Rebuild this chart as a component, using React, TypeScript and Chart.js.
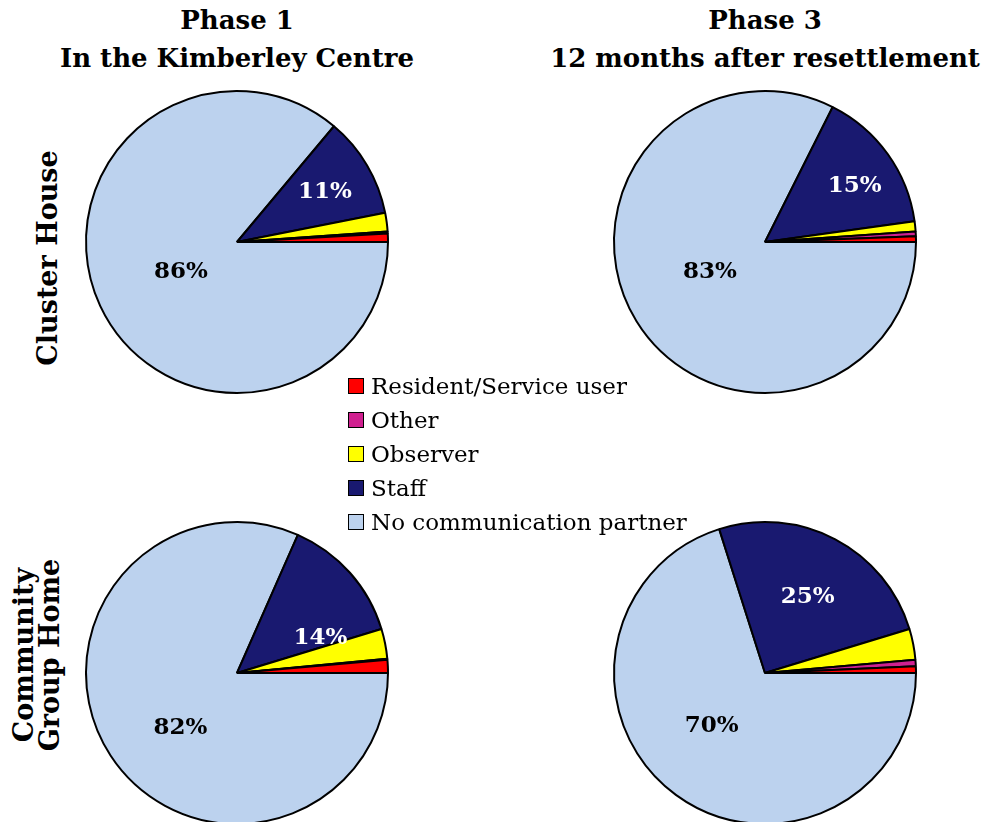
import React, { useEffect, useRef } from "react";
import { Chart, registerables } from "chart.js";
Chart.register(...registerables);

// Categories in legend order (counter-clockwise from 3 o'clock in the pies)
const categories = ["Resident/Service user", "Other", "Observer", "Staff", "No communication partner"];
const colors = ["#ff0000", "#d02090", "#ffff00", "#191970", "#bcd2ee"];

// Percentages per pie, same order as categories
const clusterPhase1 = [0.9, 0.2, 2.0, 10.8, 86.1];
const clusterPhase3 = [0.6, 0.5, 1.1, 15.4, 82.4];
const groupPhase1 = [1.4, 0.1, 3.2, 13.7, 81.6];
const groupPhase3 = [0.7, 0.7, 3.3, 25.2, 70.1];

// Printed labels: [Staff, No communication partner]
const clusterPhase1Labels = ["11%", "86%"];
const clusterPhase3Labels = ["15%", "83%"];
const groupPhase1Labels = ["14%", "82%"];
const groupPhase3Labels = ["25%", "70%"];

const columnTitles = [["Phase 1", "In the Kimberley Centre"], ["Phase 3", "12 months after resettlement"]];
const rowTitles = [["Cluster House"], ["Community", "Group Home"]];

const SERIF = "'DejaVu Serif', 'Liberation Serif', serif";
const RADIUS = 151;
const BOX = 330;

// label placement: [angle deg ccw from 3 o'clock, fraction of radius] for Staff and NoComm
type LP = [number, number][];

const percentLabelPlugin = {
  id: "pctLabels",
  afterDatasetsDraw(chart: any) {
    const opts = chart.options.plugins.pctLabels;
    if (!opts) return;
    const meta = chart.getDatasetMeta(0);
    const ctx = chart.ctx;
    // reversed data: index 0 = NoComm, index 1 = Staff
    const items = [
      { arc: meta.data[1], text: opts.labels[0], pos: opts.pos[0], color: "#ffffff" },
      { arc: meta.data[0], text: opts.labels[1], pos: opts.pos[1], color: "#000000" },
    ];
    ctx.save();
    ctx.font = `bold 23px ${SERIF}`;
    ctx.textAlign = "center";
    ctx.textBaseline = "middle";
    for (const it of items) {
      const a = (it.pos[0] * Math.PI) / 180;
      const r = it.arc.outerRadius * it.pos[1];
      ctx.fillStyle = it.color;
      ctx.fillText(it.text, it.arc.x + r * Math.cos(a), it.arc.y - r * Math.sin(a));
    }
    ctx.restore();
  },
};

function Pie({ values, labels, pos, cx, cy }: { values: number[]; labels: string[]; pos: LP; cx: number; cy: number }) {
  const ref = useRef<HTMLCanvasElement>(null);
  useEffect(() => {
    const data = [...values].reverse();
    const bg = [...colors].reverse();
    const chart = new Chart(ref.current!, {
      type: "pie",
      data: {
        labels: [...categories].reverse(),
        datasets: [{ data, backgroundColor: bg, borderColor: "#000000", borderWidth: 2, borderAlign: "center" as any }],
      },
      options: {
        responsive: false,
        animation: false,
        rotation: 90,
        radius: RADIUS,
        layout: { padding: 0 },
        plugins: { legend: { display: false }, tooltip: { enabled: false }, pctLabels: { labels, pos } } as any,
      },
      plugins: [percentLabelPlugin],
    });
    return () => chart.destroy();
  }, []);
  return (
    <canvas
      ref={ref}
      width={BOX}
      height={BOX}
      style={{ position: "absolute", left: cx - BOX / 2, top: cy - BOX / 2, width: BOX, height: BOX }}
    />
  );
}

export default function App() {
  const titleStyle: React.CSSProperties = {
    position: "absolute",
    transform: "translateX(-50%)",
    whiteSpace: "nowrap",
    fontFamily: SERIF,
    fontWeight: "bold",
    fontSize: 26,
    lineHeight: "38px",
    textAlign: "center",
  };
  const rowStyle: React.CSSProperties = {
    position: "absolute",
    transform: "translate(-50%, -50%) rotate(-90deg)",
    whiteSpace: "nowrap",
    fontFamily: SERIF,
    fontWeight: "bold",
    fontSize: 27,
    lineHeight: "26px",
    textAlign: "center",
  };
  return (
    <div style={{ position: "absolute", left: 0, top: 0, width: 981, height: 822, background: "#fff", overflow: "hidden" }}>
      <div style={{ ...titleStyle, left: 237, top: 1 }}>
        {columnTitles[0][0]}
        <br />
        {columnTitles[0][1]}
      </div>
      <div style={{ ...titleStyle, left: 765, top: 1 }}>
        {columnTitles[1][0]}
        <br />
        {columnTitles[1][1]}
      </div>
      <div style={{ ...rowStyle, left: 48, top: 258 }}>{rowTitles[0][0]}</div>
      <div style={{ ...rowStyle, left: 37, top: 655 }}>
        {rowTitles[1][0]}
        <br />
        {rowTitles[1][1]}
      </div>

      <Pie values={clusterPhase1} labels={clusterPhase1Labels} pos={[[29.6, 0.67], [208, 0.42]]} cx={237} cy={242} />
      <Pie values={clusterPhase3} labels={clusterPhase3Labels} pos={[[31.9, 0.7], [208.6, 0.415]]} cx={765} cy={242} />
      <Pie values={groupPhase1} labels={groupPhase1Labels} pos={[[23, 0.6], [224, 0.52]]} cx={237} cy={673} />
      <Pie values={groupPhase3} labels={groupPhase3Labels} pos={[[60.8, 0.58], [225, 0.5]]} cx={765} cy={673} />

      <div style={{ position: "absolute", left: 348, top: 369 }}>
        {categories.map((c, i) => (
          <div key={c} style={{ display: "flex", alignItems: "center", height: 34, fontFamily: SERIF, fontSize: 23 }}>
            <span
              style={{
                display: "inline-block",
                width: 14,
                height: 14,
                background: colors[i],
                border: "1.5px solid #000",
                marginRight: 7,
              }}
            />
            <span>{c}</span>
          </div>
        ))}
      </div>
    </div>
  );
}
